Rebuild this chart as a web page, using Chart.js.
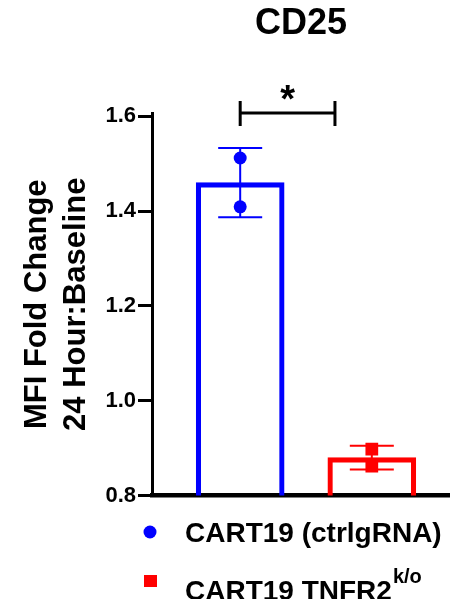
<!DOCTYPE html>
<html>
<head>
<meta charset="utf-8">
<script src="https://cdn.jsdelivr.net/npm/chart.js@4.4.1/dist/chart.umd.min.js"></script>
<style>
  body { margin: 0; background: #fff; }
  #wrap { width: 450px; height: 599px; }
</style>
</head>
<body>
<div id="wrap"><canvas id="myChart" width="450" height="599"></canvas></div>
<script>
// data
const groups = ["CART19 (ctrlgRNA)", "CART19 TNFR2"];
const groupSup = ["", "k/o"];
const groupX = [0, 1];
const groupMean = [1.46, 0.88];
const groupSD = [0.073, 0.025];
const ctrlPoints = [1.512, 1.409];
const koPoints = [0.898, 0.862];
const groupColor = ["#0000ff", "#ff0000"];
const yTicks = [0.8, 1.0, 1.2, 1.4, 1.6];
const sigPair = [0, 0.72];
const sigLevel = 1.607;
const sigText = "*";

const FONT = "'Liberation Sans', Arial, sans-serif";
const ctx = document.getElementById("myChart").getContext("2d");

// mean +/- SD whiskers, drawn after the bars and before the points
const errorBars = {
  id: "errorBars",
  afterDatasetDraw(chart, args) {
    if (args.index !== 0) return;
    const c = chart.ctx;
    const xs = chart.scales.x;
    const ys = chart.scales.y;
    c.save();
    for (let i = 0; i < groupMean.length; i++) {
      const x = xs.getPixelForValue(groupX[i]);
      const yTop = ys.getPixelForValue(groupMean[i] + groupSD[i]);
      const yBot = ys.getPixelForValue(groupMean[i] - groupSD[i]);
      c.strokeStyle = groupColor[i];
      c.lineWidth = 2;
      c.beginPath();
      c.moveTo(x, yTop);
      c.lineTo(x, yBot);
      c.moveTo(x - 22, yTop);
      c.lineTo(x + 22, yTop);
      c.moveTo(x - 22, yBot);
      c.lineTo(x + 22, yBot);
      c.stroke();
    }
    c.restore();
  },
};

// significance bracket + custom legend (needs superscript)
const extras = {
  id: "extras",
  afterDraw(chart) {
    const c = chart.ctx;
    const xs = chart.scales.x;
    const ys = chart.scales.y;
    const x1 = xs.getPixelForValue(sigPair[0]);
    const x2 = xs.getPixelForValue(sigPair[1]);
    const y = ys.getPixelForValue(sigLevel);
    c.save();
    c.strokeStyle = "#000";
    c.lineWidth = 3;
    c.beginPath();
    c.moveTo(x1, y);
    c.lineTo(x2, y);
    c.moveTo(x1, y - 12);
    c.lineTo(x1, y + 13);
    c.moveTo(x2, y - 12);
    c.lineTo(x2, y + 13);
    c.stroke();
    c.fillStyle = "#000";
    c.font = "bold 38px " + FONT;
    c.textAlign = "center";
    c.textBaseline = "alphabetic";
    c.fillText(sigText, (x1 + x2) / 2, y - 1);

    // legend
    const markY = [532, 581];
    const textY = [542, 600];
    for (let i = 0; i < groups.length; i++) {
      c.fillStyle = groupColor[i];
      if (i === 0) {
        c.beginPath();
        c.arc(150, markY[i], 6.5, 0, Math.PI * 2);
        c.fill();
      } else {
        c.fillRect(144, markY[i] - 6, 13, 12);
      }
      c.fillStyle = "#000";
      c.textAlign = "left";
      c.font = "bold 28px " + FONT;
      c.fillText(groups[i], 185, textY[i]);
      if (groupSup[i]) {
        const w = c.measureText(groups[i]).width;
        c.font = "bold 20px " + FONT;
        c.fillText(groupSup[i], 185 + w + 1, textY[i] - 17);
      }
    }
    c.restore();
  },
};

const myChart = new Chart(ctx, {
  type: "bar",
  data: {
    datasets: [
      {
        type: "bar",
        data: groupMean.map((v, i) => ({ x: groupX[i], y: v })),
        backgroundColor: "rgba(255,255,255,0)",
        borderColor: groupColor,
        borderWidth: 4.5,
        barThickness: 88,
        order: 2,
      },
      {
        type: "scatter",
        data: ctrlPoints.map((v) => ({ x: groupX[0], y: v })),
        pointStyle: "circle",
        pointRadius: 6.5,
        borderWidth: 0,
        backgroundColor: groupColor[0],
        borderColor: groupColor[0],
        order: 0,
      },
      {
        type: "scatter",
        data: koPoints.map((v) => ({ x: groupX[1], y: v })),
        pointStyle: "rect",
        pointRadius: 9,
        borderWidth: 0,
        backgroundColor: groupColor[1],
        borderColor: groupColor[1],
        order: 0,
      },
    ],
  },
  options: {
    responsive: false,
    animation: false,
    layout: { autoPadding: false, padding: { left: 0, right: 0, top: 0, bottom: 103.5 } },
    plugins: {
      legend: { display: false },
      tooltip: { enabled: false },
      title: {
        display: true,
        text: "CD25",
        fullSize: false,
        color: "#000",
        font: { family: FONT, size: 36, weight: "bold" },
        padding: { top: 2, bottom: 67.8 },
      },
    },
    scales: {
      x: {
        type: "linear",
        min: -0.67,
        max: 1.594,
        offset: false,
        ticks: { display: false },
        grid: { display: false, drawTicks: false },
        border: { display: true, color: "#000", width: 4.5 },
      },
      y: {
        min: 0.8,
        max: sigLevel,
        afterBuildTicks: (s) => {
          s.ticks = yTicks.map((v) => ({ value: v }));
        },
        afterFit: (s) => {
          s.width = 152;
        },
        ticks: {
          color: "#000",
          padding: 2,
          font: { family: FONT, size: 22, weight: "bold" },
          callback: (v) => Number(v).toFixed(1),
        },
        grid: {
          display: true,
          drawOnChartArea: false,
          drawTicks: true,
          tickLength: 14,
          lineWidth: 3,
          color: "#000",
        },
        border: { display: true, color: "#000", width: 3 },
        title: {
          display: true,
          text: ["MFI Fold Change", "24 Hour:Baseline"],
          color: "#000",
          font: { family: FONT, size: 31, weight: "bold", lineHeight: "39px" },
          padding: { top: 17.5, bottom: 0 },
        },
      },
    },
  },
  plugins: [errorBars, extras],
});
</script>
</body>
</html>
